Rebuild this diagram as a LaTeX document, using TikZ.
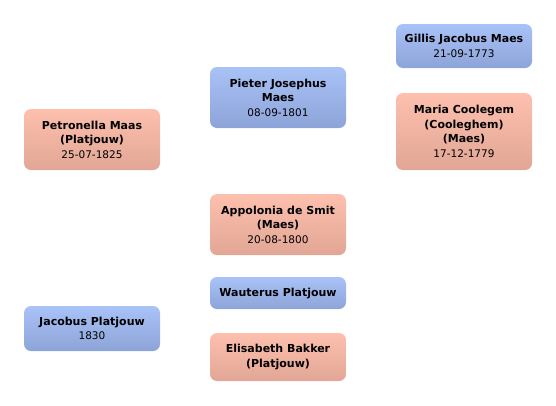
\documentclass[tikz,border=0pt]{standalone}
\usepackage{fontspec}
\setmainfont{DejaVu Sans}
\definecolor{maletop}{HTML}{A9C2F7}
\definecolor{malebot}{HTML}{8DA4D8}
\definecolor{femtop}{HTML}{FEC0AE}
\definecolor{fembot}{HTML}{E1A695}
\newcommand{\bday}[1]{{\mdseries\fontsize{10.5}{13}\selectfont #1}}
\begin{document}
\begin{tikzpicture}[x=1pt,y=-1pt,
  person/.style={rounded corners=7pt,minimum width=136pt,align=center,
    inner sep=2pt,font=\bfseries\fontsize{11}{14.5}\selectfont},
  male/.style={person,top color=maletop,bottom color=malebot},
  female/.style={person,top color=femtop,bottom color=fembot}]
\useasboundingbox (0,0) rectangle (556,405);
% eerste kolom
\node[female,minimum height=61pt] (petronella) at (92,139.5)
  {Petronella Maas\\(Platjouw)\\\bday{25-07-1825}};
\node[male,minimum height=45pt] (jacobus) at (92,328.5)
  {Jacobus Platjouw\\\bday{1830}};
% ouders
\node[male,minimum height=61pt] (pieter) at (278,97.5)
  {Pieter Josephus\\Maes\\\bday{08-09-1801}};
\node[female,minimum height=61pt] (appolonia) at (278,224.5)
  {Appolonia de Smit\\(Maes)\\\bday{20-08-1800}};
\node[male,minimum height=32pt] (wauterus) at (278,293)
  {Wauterus Platjouw};
\node[female,minimum height=48pt] (elisabeth) at (278,357)
  {Elisabeth Bakker\\(Platjouw)};
% grootouders
\node[male,minimum height=44pt] (gillis) at (464,46)
  {Gillis Jacobus Maes\\\bday{21-09-1773}};
\node[female,minimum height=77pt] (maria) at (464,131.5)
  {Maria Coolegem\\(Cooleghem)\\(Maes)\\\bday{17-12-1779}};
\end{tikzpicture}
\end{document}
